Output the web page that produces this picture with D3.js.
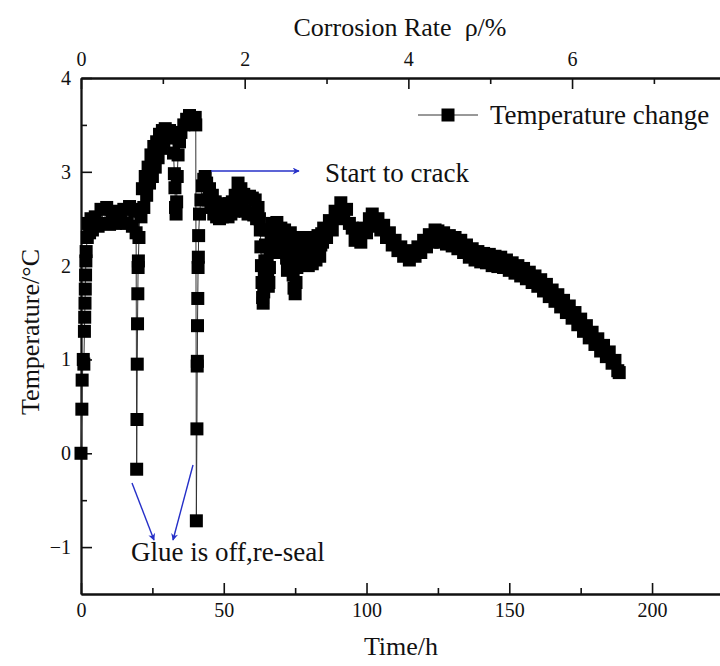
<!DOCTYPE html>
<html>
<head>
<meta charset="utf-8">
<script src="https://cdn.jsdelivr.net/npm/d3@7"></script>
<style>
    body { margin: 0; background: #fff; }
    svg { display: block; overflow: hidden; }
    text { font-family: "Liberation Serif", "Times New Roman", serif; fill: #111; white-space: pre; }
</style>
</head>
<body>
<svg id="chart" width="720" height="666"></svg>
<script>
// time (h) of every recorded point
const timeH = [
    0, 0.3, 0.4, 0.8, 1.0, 1.2, 1.3, 1.4, 1.5, 1.6, 1.7, 1.8, 2.2, 2.6, 3, 3.5, 4, 5, 6, 7, 8, 9, 10, 11, 12, 13, 14, 15, 16, 17, 18, 18.8, 19.3,
    19.5, 19.6, 19.7, 19.8, 19.9, 20.0, 20.1, 20.3, 20.6,
    21, 21.5, 22, 22.5, 23, 23.5, 24, 24.5, 25, 25.5, 26, 26.5, 27, 27.5, 28, 28.5, 29, 29.5, 30, 31, 32, 32.4, 32.7, 32.9, 33.1, 33.3, 33.5, 33.7, 34, 34.5, 35, 36, 37, 38, 39, 40, 40.2,
    40.4, 40.6, 40.7, 40.75, 40.8, 40.9, 41.0, 41.1, 41.2, 41.5, 42, 42.5, 43, 43.5,
    44, 44.5, 45, 45.5, 46, 46.5, 47, 47.5, 48, 48.5, 49, 49.5, 50, 50.5, 51, 51.5, 52, 52.5, 53, 53.5,
    54, 54.5, 55, 55.5, 56, 56.5, 57, 57.5, 58, 58.5, 59, 59.5, 60, 60.5, 61, 61.5, 62, 62.5,
    62.8, 63.0, 63.2, 63.4, 63.6, 63.8, 64.0, 64.2, 64.4, 64.6, 64.8, 65.0, 65.2, 65.4, 65.6, 65.8, 66.0, 66.3, 66.6,
    67.0, 67.3, 67.6, 68.0, 68.3, 68.6, 69.0, 69.3, 69.6, 70.0, 70.3, 70.6, 71.0, 71.3, 71.6, 72.0, 72.3, 72.6,
    73.0, 73.3, 73.6, 74.0, 74.3, 74.6, 75.0, 75.3, 75.6, 76.0, 76.3, 76.6, 77.0, 77.3, 77.6, 78.0, 78.3, 78.6,
    79.0, 79.3, 79.6, 80.0, 80.3, 80.6, 81.0, 81.3, 81.6, 82.0, 82.3, 82.6, 83.0, 83.3, 83.6, 84.0, 84.3, 84.6,
    85, 86, 87, 88, 89, 90, 91, 92, 93, 94, 95, 96, 97, 98, 99, 100, 101, 101.5,
    102, 103, 104, 105, 106, 107, 108, 109, 110, 111, 112, 113, 114, 115, 116, 117, 118, 119, 120, 121, 122, 123, 124,
    125, 126, 127, 128, 129, 130, 131, 132, 133, 134, 135, 136, 137, 138, 139, 140, 141, 142, 143, 144, 145, 146, 147, 148, 149, 150,
    151, 152, 153, 154, 155, 156, 157, 158, 159, 160, 161, 162, 163, 164, 165, 166, 167, 168, 169, 170,
    171, 172, 173, 174, 175, 176, 177, 178, 179, 180, 181, 182, 183, 184, 185, 186, 187, 188, 188.5
];

// temperature change (°C) at each time
const tempC = [
    0, 0.47, 0.78, 1.0, 0.95, 1.3, 1.45, 1.6, 1.75, 1.9, 2.05, 2.15, 2.3, 2.45, 2.35, 2.5, 2.38, 2.52, 2.42, 2.6, 2.45, 2.62, 2.44, 2.58, 2.45, 2.55, 2.47, 2.6, 2.45, 2.63, 2.42, 2.58, 2.35,
    -0.17, 0.36, 0.95, 1.38, 1.7, 1.98, 2.05, 2.3, 2.6,
    2.52, 2.82, 2.62, 2.95, 2.75, 3.05, 2.88, 3.18, 2.95, 3.27, 3.05, 3.32, 3.15, 3.4, 3.25, 3.44, 3.32, 3.46, 3.38, 3.44, 3.36, 3.2, 2.98, 2.83, 2.62, 2.55, 2.68, 2.95, 3.18, 3.32, 3.42, 3.5, 3.56, 3.6, 3.52, 3.58, 3.5,
    -0.72, 0.26, 0.93, 0.98, 1.36, 1.65, 1.98, 2.09, 2.32, 2.55, 2.7, 2.85, 2.92, 2.95,
    2.88, 2.7, 2.82, 2.62, 2.75, 2.55, 2.68, 2.52, 2.62, 2.5, 2.64, 2.52, 2.66, 2.54, 2.64, 2.52, 2.66, 2.55, 2.68, 2.58,
    2.75, 2.62, 2.88, 2.7, 2.82, 2.62, 2.76, 2.58, 2.72, 2.55, 2.74, 2.56, 2.72, 2.54, 2.7, 2.5, 2.62, 2.5,
    2.38, 2.2, 2.0, 1.82, 1.66, 1.6, 1.72, 1.88, 2.05, 2.22, 2.38, 2.2, 2.05, 1.9, 1.78, 1.82, 1.98, 2.15, 2.32,
    2.45, 2.3, 2.15, 2.22, 2.38, 2.46, 2.3, 2.14, 2.25, 2.4, 2.28, 2.14, 2.28, 2.38, 2.22, 2.08, 1.95, 2.1,
    2.25, 2.35, 2.2, 2.05, 1.9, 1.76, 1.7, 1.82, 1.98, 2.14, 2.3, 2.18, 2.04, 2.15, 2.3, 2.18, 2.02, 2.12,
    2.28, 2.16, 2.0, 2.12, 2.28, 2.15, 2.02, 2.14, 2.3, 2.2, 2.06, 2.18, 2.32, 2.2, 2.1, 2.22, 2.34, 2.25,
    2.4, 2.3, 2.48, 2.38, 2.58, 2.5, 2.67, 2.55, 2.6, 2.45, 2.4, 2.27, 2.34, 2.25, 2.4, 2.35, 2.5, 2.42,
    2.55, 2.45, 2.5, 2.38, 2.43, 2.3, 2.35, 2.22, 2.27, 2.16, 2.2, 2.1, 2.15, 2.06, 2.16, 2.1, 2.2, 2.14, 2.27, 2.2, 2.33, 2.25, 2.38,
    2.37, 2.25, 2.35, 2.23, 2.32, 2.21, 2.3, 2.18, 2.27, 2.14, 2.22, 2.09, 2.18, 2.06, 2.15, 2.04, 2.13, 2.03, 2.12, 2.0, 2.1, 1.99, 2.09, 1.98, 2.06, 1.95,
    2.03, 1.92, 2.0, 1.89, 1.97, 1.86, 1.93, 1.82, 1.89, 1.78, 1.85, 1.73, 1.8, 1.67, 1.74, 1.62, 1.69, 1.56, 1.63, 1.5,
    1.57, 1.44, 1.5, 1.37, 1.43, 1.3, 1.36, 1.23, 1.29, 1.16, 1.22, 1.09, 1.15, 1.03, 1.08, 0.96, 0.99, 0.88, 0.86
];

// tick labels
const timeTicks = [0, 50, 100, 150, 200];
const timeMinor = [25, 75, 125, 175, 225];
const rateTicks = [0, 2, 4, 6];
const rateMinor = [1, 3, 5, 7];
const tempTicks = [-1, 0, 1, 2, 3, 4];
const tempMinor = [-0.5, 0.5, 1.5, 2.5, 3.5];

const svg = d3.select("#chart");

// plot box (the right edge is cut off by the page, as in the picture)
const plotLeft = 81, plotTop = 78, plotBottom = 594, plotRight = 730;

const x = d3.scaleLinear().domain([0, 227.3]).range([plotLeft, plotRight]);
const xTop = d3.scaleLinear().domain([0, 7.93]).range([plotLeft, plotRight]);
const y = d3.scaleLinear().domain([-1.5, 4]).range([plotBottom, plotTop]);

const data = timeH.map((t, i) => [t, tempC[i]]);

// axes helper
function drawAxis(axis, tr) {
    const g = svg.append("g").attr("transform", tr).call(axis);
    g.select(".domain").attr("stroke", "#111").attr("stroke-width", 1.8);
    g.selectAll(".tick line").attr("stroke", "#111").attr("stroke-width", 1.6);
    g.selectAll(".tick text")
        .style("font-family", "Liberation Serif")
        .style("font-size", "20px")
        .attr("fill", "#111");
    return g;
}

const intFormat = d3.format("d");

// bottom axis
drawAxis(d3.axisBottom(x).tickValues(timeTicks).tickSizeInner(-11).tickSizeOuter(0).tickPadding(9).tickFormat(intFormat), `translate(0,${plotBottom})`);
drawAxis(d3.axisBottom(x).tickValues(timeMinor).tickSizeInner(-6).tickSizeOuter(0).tickFormat(""), `translate(0,${plotBottom})`);

// top axis
drawAxis(d3.axisTop(xTop).tickValues(rateTicks).tickSizeInner(-11).tickSizeOuter(0).tickPadding(12).tickFormat(intFormat), `translate(0,${plotTop})`);
drawAxis(d3.axisTop(xTop).tickValues(rateMinor).tickSizeInner(-6).tickSizeOuter(0).tickFormat(""), `translate(0,${plotTop})`);

// left axis
drawAxis(d3.axisLeft(y).tickValues(tempTicks).tickSizeInner(-11).tickSizeOuter(0).tickPadding(10).tickFormat(intFormat), `translate(${plotLeft},0)`);
drawAxis(d3.axisLeft(y).tickValues(tempMinor).tickSizeInner(-6).tickSizeOuter(0).tickFormat(""), `translate(${plotLeft},0)`);

// axis titles
svg.append("text")
    .attr("x", 400).attr("y", 36)
    .attr("text-anchor", "middle")
    .style("font-size", "26px")
    .text("Corrosion Rate  ρ/%");

svg.append("text")
    .attr("x", 401).attr("y", 655)
    .attr("text-anchor", "middle")
    .style("font-size", "26px")
    .text("Time/h");

svg.append("text")
    .attr("text-anchor", "middle")
    .attr("transform", "translate(39,332)rotate(-90)")
    .style("font-size", "26px")
    .text("Temperature/°C");

// connecting line
const line = d3.line()
    .x((d) => x(d[0]))
    .y((d) => y(d[1]));

svg.append("path")
    .datum(data)
    .attr("d", line)
    .attr("fill", "none")
    .attr("stroke", "#333")
    .attr("stroke-width", 1);

// square markers
const size = 13;
svg.append("g")
    .selectAll("rect")
    .data(data)
    .enter()
    .append("rect")
    .attr("x", (d) => x(d[0]) - size / 2)
    .attr("y", (d) => y(d[1]) - size / 2)
    .attr("width", size)
    .attr("height", size)
    .attr("fill", "#000");

// legend
svg.append("line")
    .attr("x1", 418).attr("x2", 478)
    .attr("y1", 115).attr("y2", 115)
    .attr("stroke", "#333").attr("stroke-width", 1);
svg.append("rect")
    .attr("x", 448 - size / 2).attr("y", 115 - size / 2)
    .attr("width", size).attr("height", size)
    .attr("fill", "#000");
svg.append("text")
    .attr("x", 490).attr("y", 124)
    .style("font-size", "27px")
    .text("Temperature change");

// arrow head
const blue = "#2630c8";
svg.append("defs")
    .append("marker")
    .attr("id", "head")
    .attr("viewBox", "0 0 10 10")
    .attr("refX", 9).attr("refY", 5)
    .attr("markerWidth", 9).attr("markerHeight", 7)
    .attr("markerUnits", "userSpaceOnUse")
    .attr("orient", "auto")
    .append("path")
    .attr("d", "M0,0L10,5L0,10L3,5Z")
    .attr("fill", blue);

// annotations
function arrow(x1, y1, x2, y2) {
    svg.append("line")
        .attr("x1", x1).attr("y1", y1)
        .attr("x2", x2).attr("y2", y2)
        .attr("stroke", blue).attr("stroke-width", 1.4)
        .attr("marker-end", "url(#head)");
}

arrow(211, 171, 299, 171);
svg.append("text")
    .attr("x", 325).attr("y", 182)
    .style("font-size", "27px")
    .text("Start to crack");

arrow(132, 483, 154, 540);
arrow(193, 465, 173, 540);
svg.append("text")
    .attr("x", 131).attr("y", 561)
    .style("font-size", "27px")
    .text("Glue is off,re-seal");
</script>
</body>
</html>
